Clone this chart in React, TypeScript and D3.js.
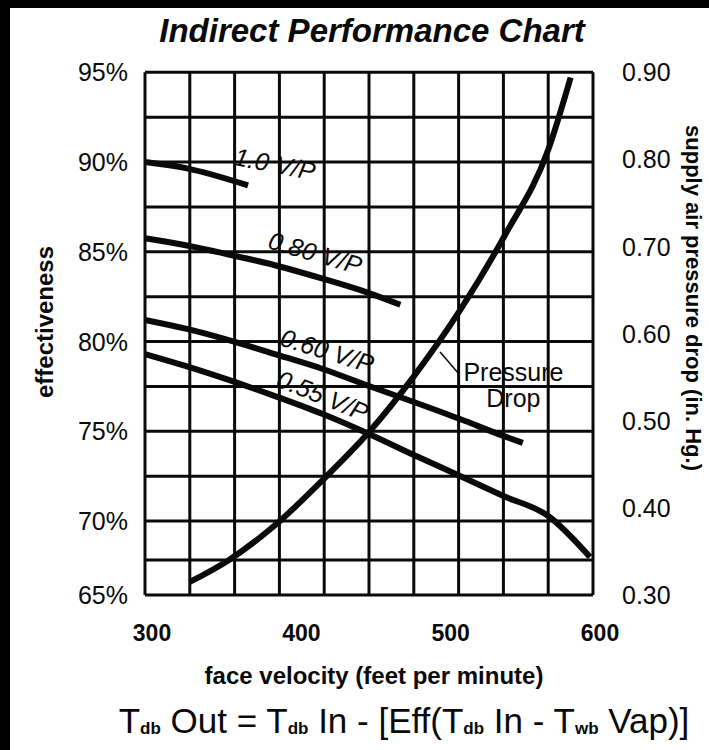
import React from 'react';
import * as d3 from 'd3';

// values
const velocityTicks = [300, 400, 500, 600];
const velocityGrid = [300, 330, 360, 390, 420, 450, 480, 510, 540, 570, 600];
const effTicks = [95, 90, 85, 80, 75, 70, 65];
const effGrid = [65, 67.5, 70, 72.5, 75, 77.5, 80, 82.5, 85, 87.5, 90, 92.5, 95];
const pressureTicks = [0.9, 0.8, 0.7, 0.6, 0.5, 0.4, 0.3];

// effectiveness (%) against face velocity, one array per V/P ratio
const vp100 = [[300, 90.0], [328, 89.65], [369, 88.7]];
const vp080 = [[300, 85.75], [328, 85.35], [356, 84.85], [387, 84.25], [419, 83.5], [450, 82.7], [471, 82.05]];
const vp060 = [[300, 81.2], [328, 80.7], [356, 80.08], [387, 79.3], [419, 78.47], [450, 77.52], [480, 76.63], [511, 75.68], [540, 74.74], [553, 74.35]];
const vp055 = [[300, 79.3], [327, 78.64], [356, 77.86], [387, 76.96], [419, 75.96], [450, 74.85], [480, 73.68], [511, 72.51], [540, 71.39], [570, 70.28], [598, 67.69]];

// supply air pressure drop (in. Hg.) against face velocity
const pressureDrop = [[330, 0.315], [356, 0.34], [387, 0.38], [419, 0.432], [450, 0.487], [480, 0.551], [511, 0.627], [541, 0.713], [570, 0.811], [585, 0.894]];

// curve labels: text, velocity, effectiveness, angle
const curveLabels = [
  { text: '1.0 V/P', v: 387, e: 89.9, angle: 11 },
  { text: '0.80 V/P', v: 414, e: 84.95, angle: 16 },
  { text: '0.60 V/P', v: 422, e: 79.5, angle: 17 },
  { text: '0.55 V/P', v: 419, e: 77.0, angle: 22 },
];

const W = 709;
const H = 750;

const App = () => {
  const x = d3.scaleLinear().domain([300, 600]).range([145, 593]);
  // printed grid rows are a bit squashed near the bottom
  const y = d3.scaleLinear().domain([65, 67.5, 70, 95]).range([595, 560, 521, 72.3]);
  const yp = d3.scaleLinear().domain([0.3, 0.9]).range([595, 72.3]);

  const effLine = d3.line<number[]>()
    .x(d => x(d[0]))
    .y(d => y(d[1]))
    .curve(d3.curveMonotoneX);

  const pLine = d3.line<number[]>()
    .x(d => x(d[0]))
    .y(d => yp(d[1]))
    .curve(d3.curveMonotoneX);

  const font = '"Liberation Sans", Arial, sans-serif';
  const ink = '#0a0a0a';

  return (
    <svg width={W} height={H} style={{ position: 'absolute', left: 0, top: 0, background: '#fff' }} fontFamily={font}>
      <rect x={0} y={0} width={W} height={H} fill="#fff" />
      {/* scan frame */}
      <rect x={0} y={0} width={W} height={8} fill="#000" />
      <rect x={0} y={0} width={10} height={H} fill="#000" />

      <text x={372} y={42} textAnchor="middle" fontSize={33} fontWeight="bold" fontStyle="italic" fill={ink}>
        Indirect Performance Chart
      </text>

      {/* grid */}
      <g stroke={ink} strokeWidth={3}>
        {velocityGrid.map(v => (
          <line key={'v' + v} x1={x(v)} x2={x(v)} y1={y(95)} y2={y(65)} />
        ))}
        {effGrid.map(e => (
          <line key={'h' + e} x1={x(300)} x2={x(600)} y1={y(e)} y2={y(e)} />
        ))}
      </g>

      {/* curves */}
      <g fill="none" stroke={ink} strokeWidth={6} strokeLinecap="butt">
        <path d={effLine(vp100) || ''} />
        <path d={effLine(vp080) || ''} />
        <path d={effLine(vp060) || ''} />
        <path d={effLine(vp055) || ''} />
        <path d={pLine(pressureDrop) || ''} />
      </g>

      {curveLabels.map(l => (
        <text
          key={l.text}
          transform={`translate(${x(l.v)},${y(l.e)}) rotate(${l.angle})`}
          textAnchor="middle"
          dominantBaseline="central"
          fontSize={25}
          fontStyle="italic"
          fill={ink}
        >
          {l.text}
        </text>
      ))}

      {/* pressure drop callout */}
      <line x1={x(497.6)} y1={yp(0.579)} x2={x(509.8)} y2={yp(0.5545)} stroke={ink} strokeWidth={1.5} />
      <text x={x(546.7)} y={yp(0.5457)} textAnchor="middle" fontSize={25} fill={ink}>Pressure</text>
      <text x={x(546.7)} y={yp(0.5158)} textAnchor="middle" fontSize={25} fill={ink}>Drop</text>

      {/* left axis */}
      {effTicks.map(e => (
        <text key={'l' + e} x={128} y={y(e)} dy="0.36em" textAnchor="end" fontSize={25} fill={ink}>
          {e}%
        </text>
      ))}
      <text transform="translate(53,322) rotate(-90)" textAnchor="middle" fontSize={24} fontWeight="bold" fill={ink}>
        effectiveness
      </text>

      {/* right axis */}
      {pressureTicks.map(p => (
        <text key={'r' + p} x={622} y={yp(p)} dy="0.36em" textAnchor="start" fontSize={25} fill={ink}>
          {p.toFixed(2)}
        </text>
      ))}
      <text transform="translate(686,298) rotate(90)" textAnchor="middle" fontSize={22} fontWeight="bold" fill={ink}>
        supply air pressure drop (in. Hg.)
      </text>

      {/* bottom axis */}
      {velocityTicks.map(v => (
        <text key={'b' + v} x={x(v) + 7} y={641} textAnchor="middle" fontSize={23} fontWeight="bold" fill={ink}>
          {v}
        </text>
      ))}
      <text x={374} y={684} textAnchor="middle" fontSize={24} fontWeight="bold" fill={ink}>
        face velocity (feet per minute)
      </text>

      <text x={404} y={733} textAnchor="middle" fontSize={35} fill={ink}>
        T<tspan fontSize={17} fontWeight="bold" dy={1}>db</tspan>
        <tspan dy={-1}> Out = T</tspan>
        <tspan fontSize={17} fontWeight="bold" dy={1}>db</tspan>
        <tspan dy={-1}> In - [Eff(T</tspan>
        <tspan fontSize={17} fontWeight="bold" dy={1}>db</tspan>
        <tspan dy={-1}>  In - T</tspan>
        <tspan fontSize={17} fontWeight="bold" dy={1}>wb</tspan>
        <tspan dy={-1}> Vap)]</tspan>
      </text>
    </svg>
  );
};

export default App;
